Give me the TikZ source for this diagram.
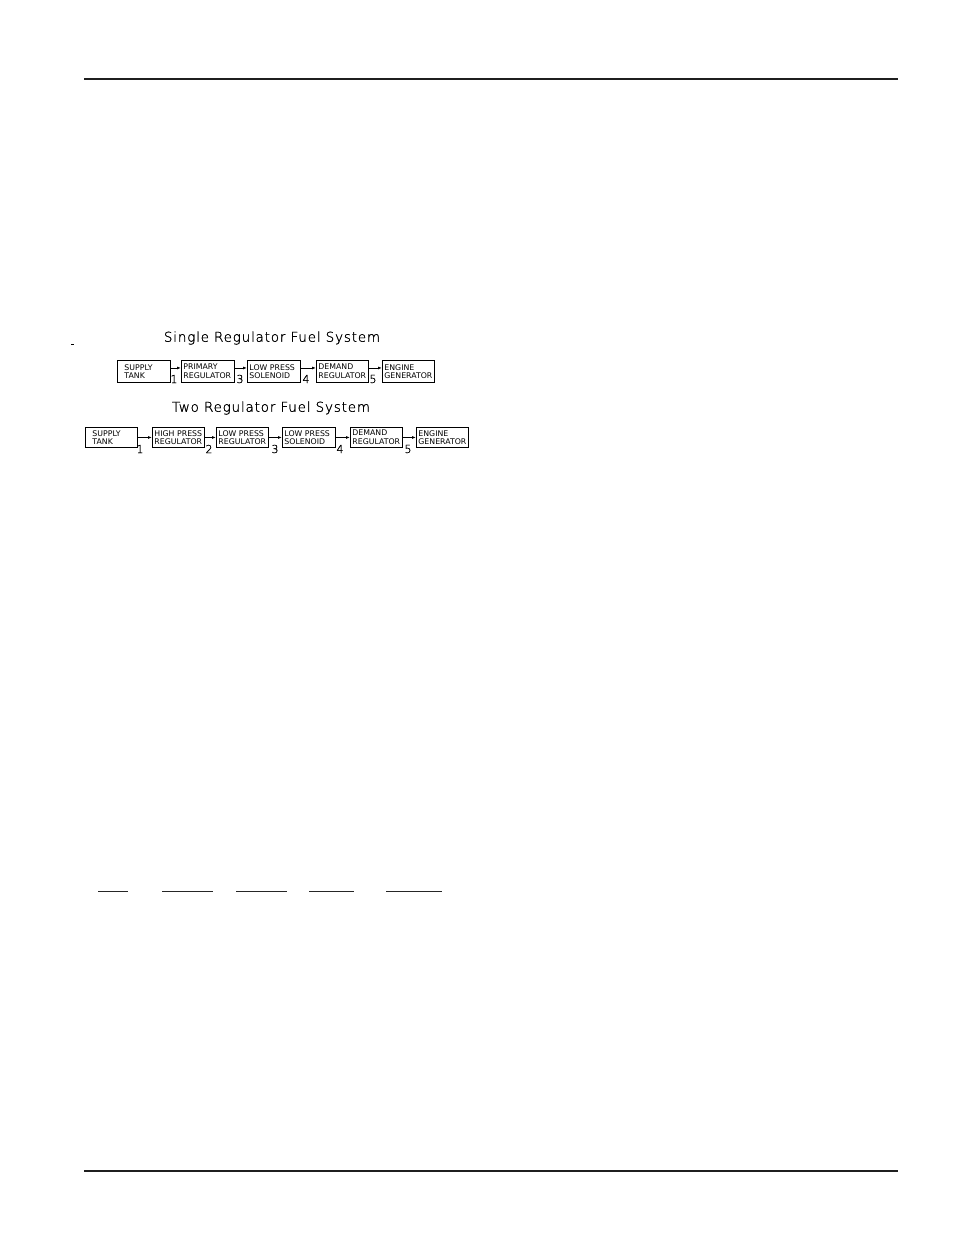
\documentclass[tikz,border=0pt]{standalone}
\usepackage{fontspec}
\setmainfont{DejaVu Sans}
\newfontfamily\thinfont[FakeBold=1.2]{DejaVu Sans ExtraLight}
\usetikzlibrary{arrows.meta}
\tikzset{
  fbox/.style={draw, line width=0.9pt, anchor=north west, align=left,
    inner xsep=2pt, inner ysep=0pt, minimum height=22pt, text width=#1,
    font=\fontsize{7.8}{8.5}\selectfont},
  fbox2/.style={fbox=#1, minimum height=20pt},
  arr/.style={line width=0.8pt, -{Latex[length=4pt,width=3pt]}},
  lbl/.style={font=\thinfont\fontsize{11}{11}\selectfont, inner sep=0pt},
  ttl/.style={font=\thinfont\fontsize{13.5}{14}\selectfont\addfontfeatures{LetterSpace=6}, inner sep=0pt},
  rule/.style={line width=1.2pt, color=black!88},
  uline/.style={line width=1pt, color=black!85}
}
\begin{document}
\begin{tikzpicture}[x=1pt,y=-1pt]
\useasboundingbox (0,0) rectangle (954,1235);
% page rules
\draw[rule] (84,79) -- (898,79);
\draw[rule] (84,1171) -- (898,1171);
% stray dash
\draw[line width=0.8pt] (71,344.5) -- (74,344.5);
% titles
\node[ttl] (t1) at (272,338) {Single Regulator Fuel System};
\node[ttl] (t2) at (271,408) {Two Regulator Fuel System};
% row 1
\node[fbox=49pt] (a1) at (117,360) {\hspace*{5pt}SUPPLY\\\hspace*{5pt}TANK};
\node[fbox=49pt] (a2) at (181,360) {PRIMARY\\REGULATOR};
\node[fbox=49pt] (a3) at (247,360) {\mbox{LOW PRESS}\\SOLENOID};
\node[fbox=48pt] (a4) at (316,360) {DEMAND\\REGULATOR};
\node[fbox=48pt] (a5) at (382,360) {ENGINE\\GENERATOR};
\draw[arr] ([yshift=3.5pt]a1.east) -- ([yshift=3.5pt]a2.west);
\draw[arr] ([yshift=3.5pt]a2.east) -- ([yshift=3.5pt]a3.west);
\draw[arr] ([yshift=3.5pt]a3.east) -- ([yshift=3.5pt]a4.west);
\draw[arr] ([yshift=3.5pt]a4.east) -- ([yshift=3.5pt]a5.west);
\node[lbl] (n11) at (174,379) {1};
\node[lbl] (n13) at (240,379) {3};
\node[lbl] (n14) at (306,379) {4};
\node[lbl] (n15) at (373,379) {5};
% row 2
\node[fbox2=48pt] (b1) at (85,427) {\hspace*{5pt}SUPPLY\\\hspace*{5pt}TANK};
\node[fbox2=48pt] (b2) at (152,427) {\mbox{HIGH PRESS}\\REGULATOR};
\node[fbox2=48pt] (b3) at (216,427) {\mbox{LOW PRESS}\\REGULATOR};
\node[fbox2=49pt] (b4) at (282,427) {\mbox{LOW PRESS}\\SOLENOID};
\node[fbox2=48pt] (b5) at (350,427) {DEMAND\\REGULATOR};
\node[fbox2=48pt] (b6) at (416,427) {ENGINE\\GENERATOR};
\draw[arr] (b1.east) -- (b2.west);
\draw[arr] (b2.east) -- (b3.west);
\draw[arr] (b3.east) -- (b4.west);
\draw[arr] (b4.east) -- (b5.west);
\draw[arr] (b5.east) -- (b6.west);
\node[lbl] (n21) at (140,449) {1};
\node[lbl] (n22) at (209,449) {2};
\node[lbl] (n23) at (275,449) {3};
\node[lbl] (n24) at (340,449) {4};
\node[lbl] (n25) at (408,449) {5};
% blank underlines
\draw[uline] (98,891.5) -- (128,891.5);
\draw[uline] (162,891.5) -- (213,891.5);
\draw[uline] (236,891.5) -- (287,891.5);
\draw[uline] (309,891.5) -- (354,891.5);
\draw[uline] (386,891.5) -- (442,891.5);
\end{tikzpicture}
\end{document}
